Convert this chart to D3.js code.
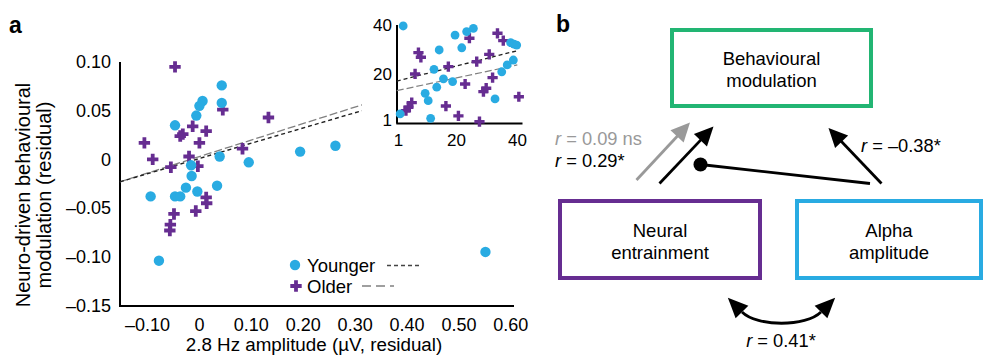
<!DOCTYPE html>
<html><head><meta charset="utf-8">
<script src="https://cdn.jsdelivr.net/npm/d3@7"></script>
<style>
html,body{margin:0;padding:0;background:#fff;}
svg{display:block;font-family:"Liberation Sans",Arial,Helvetica,sans-serif;}
</style></head>
<body>
<svg id="chart" width="983" height="355"></svg>
<script>
// ---------- DATA ----------
const youngerX = [0.044,0.007,0.001,0.044,-0.005,-0.046,0.040,0.096,0.195,0.263,-0.015,-0.014,-0.025,-0.003,0.035,-0.093,-0.046,-0.036,-0.077,0.552];
const youngerY = [0.076,0.060,0.055,0.058,0.045,0.035,0.003,-0.003,0.008,0.014,-0.006,-0.017,-0.029,-0.033,-0.027,-0.038,-0.038,-0.038,-0.104,-0.095];
const olderX = [-0.046,0.046,-0.012,0.014,-0.031,-0.036,-0.105,0.001,0.134,0.084,-0.089,-0.019,-0.054,-0.002,0.014,0.015,-0.006,-0.048,-0.055,-0.056];
const olderY = [0.095,0.051,0.034,0.029,0.026,0.024,0.017,0.017,0.043,0.011,0.000,0.003,-0.008,-0.007,-0.039,-0.045,-0.053,-0.056,-0.067,-0.073];
const fitYoungerX = [-0.152,0.314], fitYoungerY = [-0.023,0.050];
const fitOlderX = [-0.152,0.314], fitOlderY = [-0.023,0.056];
const xTicks = [-0.10,0,0.10,0.20,0.30,0.40,0.50,0.60];
const xTickLabels = ["\u20130.10","0","0.10","0.20","0.30","0.40","0.50","0.60"];
const yTicks = [0.10,0.05,0,-0.05,-0.10,-0.15];
const yTickLabels = ["0.10","0.05","0","\u20130.05","\u20130.10","\u20130.15"];
// inset
const inYoungerX = [2.7,19.7,23.5,25.7,21.9,14.5,37.9,39.0,39.9,38.8,36.8,35.0,12.8,15.9,18.9,13.7,9.9,10.9,32.8,11.7,1.7];
const inYoungerY = [39.6,35.9,37.3,38.6,30.7,29.8,32.8,32.2,31.8,25.7,23.7,20.9,21.9,18.0,16.9,14.6,12.1,9.1,9.8,1.9,3.7];
const inOlderX = [7.7,8.5,6.6,17.5,24.4,33.6,35.5,30.9,26.8,32.0,23.0,29.9,29.0,40.6,16.7,5.5,4.4,3.6,20.8,27.7];
const inOlderY = [28.7,26.8,20.0,23.0,34.6,36.6,33.6,28.0,25.0,18.5,15.9,14.2,12.8,10.7,6.9,8.3,6.4,5.0,2.9,0.5];
const inFitYoungerX = [0.6,40.1], inFitYoungerY = [17.1,29.5];
const inFitOlderX = [0.6,40.1], inFitOlderY = [13.2,23.7];
const inTicks = [1,20,40];
const legendLabels = ["Younger","Older"];
// panel b
const boxLabels = [["Behavioural","modulation"],["Neural","entrainment"],["Alpha","amplitude"]];
const rLabels = ["0.09 ns","0.29*","\u20130.38*","0.41*"];

// ---------- STYLE ----------
const cYoung = "#29abe2", cOld = "#662d91", cGreen = "#22b573";
const svg = d3.select("#chart");

// ---------- PANEL A ----------
const x = d3.scaleLinear().domain([-0.152,0.607]).range([120,514]);
const y = d3.scaleLinear().domain([-0.15,0.10]).range([305.5,62]);

svg.append("text").attr("x",9).attr("y",33).attr("font-size",23).attr("font-weight","bold").text("a");

const xAxis = d3.axisBottom(x).tickValues(xTicks).tickSize(0).tickPadding(12)
  .tickFormat((d,i)=>xTickLabels[i]);
const gx = svg.append("g").attr("transform","translate(0,306)").call(xAxis);
gx.select(".domain").attr("stroke","#000").attr("stroke-width",2).attr("d","M120,0H514");
gx.selectAll("text").attr("font-size",18).attr("fill","#000").attr("font-family","Liberation Sans, Arial, sans-serif");

const yAxis = d3.axisLeft(y).tickValues(yTicks).tickSize(0).tickPadding(9)
  .tickFormat((d,i)=>yTickLabels[i]);
const gy = svg.append("g").attr("transform","translate(120,0)").call(yAxis);
gy.select(".domain").attr("stroke","#000").attr("stroke-width",2).attr("d","M0,62V307");
gy.selectAll("text").attr("font-size",18).attr("fill","#000").attr("font-family","Liberation Sans, Arial, sans-serif");

svg.append("text").attr("x",314).attr("y",351).attr("text-anchor","middle").attr("font-size",18.8)
  .text("2.8 Hz amplitude (\u00b5V, residual)");
svg.append("text").attr("transform","translate(30,195) rotate(-90)").attr("text-anchor","middle").attr("font-size",20)
  .text("Neuro-driven behavioural");
svg.append("text").attr("transform","translate(51,195) rotate(-90)").attr("text-anchor","middle").attr("font-size",20)
  .text("modulation (residual)");

// fit lines
const line = d3.line().x(d=>x(d[0])).y(d=>y(d[1]));
svg.append("path").attr("d",line(d3.zip(fitOlderX,fitOlderY))).attr("fill","none")
  .attr("stroke","#808080").attr("stroke-width",1.3).attr("stroke-dasharray","8,3");
svg.append("path").attr("d",line(d3.zip(fitYoungerX,fitYoungerY))).attr("fill","none")
  .attr("stroke","#222").attr("stroke-width",1.4).attr("stroke-dasharray","4,3");

// points
const cross = d3.symbol().type(d3.symbolCross).size(72);
svg.append("g").selectAll("path").data(d3.zip(olderX,olderY)).join("path")
  .attr("d",cross).attr("transform",d=>`translate(${x(d[0])},${y(d[1])})`).attr("fill",cOld);
svg.append("g").selectAll("circle").data(d3.zip(youngerX,youngerY)).join("circle")
  .attr("cx",d=>x(d[0])).attr("cy",d=>y(d[1])).attr("r",5.2).attr("fill",cYoung);

// legend
svg.append("circle").attr("cx",295).attr("cy",265).attr("r",5.2).attr("fill",cYoung);
svg.append("text").attr("x",307).attr("y",271.5).attr("font-size",18.5).text(legendLabels[0]);
svg.append("line").attr("x1",387).attr("x2",419).attr("y1",265.5).attr("y2",265.5)
  .attr("stroke","#444").attr("stroke-width",1.3).attr("stroke-dasharray","4,3");
svg.append("path").attr("d",cross).attr("transform","translate(296,286)").attr("fill",cOld);
svg.append("text").attr("x",307).attr("y",292.5).attr("font-size",18.5).text(legendLabels[1]);
svg.append("line").attr("x1",362).attr("x2",394).attr("y1",286).attr("y2",286)
  .attr("stroke","#808080").attr("stroke-width",1.3).attr("stroke-dasharray","9,5");

// inset
const xi = d3.scaleLinear().domain([1,40]).range([398,517]);
const yi = d3.scaleLinear().domain([1,40]).range([120.5,25]);
const xiAxis = d3.axisBottom(xi).tickValues(inTicks).tickSize(0).tickPadding(10).tickFormat(d3.format("d"));
const gxi = svg.append("g").attr("transform","translate(0,123.5)").call(xiAxis);
gxi.select(".domain").attr("stroke","#000").attr("stroke-width",2).attr("d",`M${xi(0.45)},0H${xi(41.8)}`);
gxi.selectAll("text").attr("font-size",17).attr("fill","#000").attr("font-family","Liberation Sans, Arial, sans-serif");
const yiAxis = d3.axisLeft(yi).tickValues(inTicks).tickSize(0).tickPadding(5).tickFormat(d3.format("d"));
const gyi = svg.append("g").attr("transform","translate(397,0)").call(yiAxis);
gyi.select(".domain").attr("stroke","#000").attr("stroke-width",2).attr("d",`M0,${yi(40)}V${yi(-0.2)}`);
gyi.selectAll("text").attr("font-size",17).attr("fill","#000").attr("font-family","Liberation Sans, Arial, sans-serif");

const linei = d3.line().x(d=>xi(d[0])).y(d=>yi(d[1]));
svg.append("path").attr("d",linei(d3.zip(inFitOlderX,inFitOlderY))).attr("fill","none")
  .attr("stroke","#808080").attr("stroke-width",1.2).attr("stroke-dasharray","7,3");
svg.append("path").attr("d",linei(d3.zip(inFitYoungerX,inFitYoungerY))).attr("fill","none")
  .attr("stroke","#222").attr("stroke-width",1.3).attr("stroke-dasharray","4,3");
const crossS = d3.symbol().type(d3.symbolCross).size(58);
svg.append("g").selectAll("path").data(d3.zip(inOlderX,inOlderY)).join("path")
  .attr("d",crossS).attr("transform",d=>`translate(${xi(d[0])},${yi(d[1])})`).attr("fill",cOld);
svg.append("g").selectAll("circle").data(d3.zip(inYoungerX,inYoungerY)).join("circle")
  .attr("cx",d=>xi(d[0])).attr("cy",d=>yi(d[1])).attr("r",4.4).attr("fill",cYoung);

// ---------- PANEL B ----------
svg.append("text").attr("x",556).attr("y",32).attr("font-size",23).attr("font-weight","bold").text("b");

const boxes = [
  {x:672,y:30,w:199,h:76,c:cGreen},
  {x:560,y:201,w:200,h:77,c:cOld},
  {x:797,y:201,w:184,h:77,c:cYoung}
];
boxes.forEach((b,i)=>{
  svg.append("rect").attr("x",b.x).attr("y",b.y).attr("width",b.w).attr("height",b.h)
    .attr("fill","none").attr("stroke",b.c).attr("stroke-width",4);
  const t = svg.append("text").attr("text-anchor","middle").attr("font-size",18.5);
  t.append("tspan").attr("x",b.x+b.w/2).attr("y",b.y+b.h/2-3).text(boxLabels[i][0]);
  t.append("tspan").attr("x",b.x+b.w/2).attr("y",b.y+b.h/2+19).text(boxLabels[i][1]);
});

function arrowHead(tx,ty,dx,dy,color,L,W){
  const n = Math.hypot(dx,dy); dx/=n; dy/=n;
  const bx = tx-dx*L, by = ty-dy*L;
  const px = -dy, py = dx;
  svg.append("path").attr("d",`M${tx},${ty}L${bx+px*W},${by+py*W}L${bx-px*W},${by-py*W}Z`).attr("fill",color);
  return [bx+dx*2,by+dy*2];
}
function arrow(x1,y1,x2,y2,color){
  const b = arrowHead(x2,y2,x2-x1,y2-y1,color,19,9);
  svg.append("line").attr("x1",x1).attr("y1",y1).attr("x2",b[0]).attr("y2",b[1])
    .attr("stroke",color).attr("stroke-width",2.8);
}
arrow(636.5,180,690,122.5,"#999");
arrow(659.5,183.5,713.5,126.5,"#000");
arrow(881.5,183.5,828.5,128,"#000");
// moderation line with dot
svg.append("line").attr("x1",700.5).attr("y1",164.5).attr("x2",870).attr("y2",183.5)
  .attr("stroke","#000").attr("stroke-width",2.8);
svg.append("circle").attr("cx",700.5).attr("cy",164.5).attr("r",7).attr("fill","#000");

// curved double arrow
const P0=[742,312],P1=[757,327],P2=[806,327],P3=[821,312];
svg.append("path").attr("d",`M${P0}C${P1} ${P2} ${P3}`).attr("fill","none").attr("stroke","#000").attr("stroke-width",2.8);
(function(){
  const L=20,W=9;
  let dx=P0[0]-P1[0], dy=P0[1]-P1[1]; let n=Math.hypot(dx,dy);
  arrowHead(P0[0]+dx/n*L,P0[1]+dy/n*L,dx,dy,"#000",L,W);
  dx=P3[0]-P2[0]; dy=P3[1]-P2[1]; n=Math.hypot(dx,dy);
  arrowHead(P3[0]+dx/n*L,P3[1]+dy/n*L,dx,dy,"#000",L,W);
})();

function rText(xp,yp,val,color,anchor){
  const t = svg.append("text").attr("x",xp).attr("y",yp).attr("font-size",18.3).attr("fill",color)
    .attr("text-anchor",anchor||"start");
  t.append("tspan").attr("font-style","italic").text("r");
  t.append("tspan").text(" = "+val);
}
rText(555,145,rLabels[0],"#999");
rText(555,166.5,rLabels[1],"#000");
rText(861,151.5,rLabels[2],"#000");
rText(781,346.5,rLabels[3],"#000","middle");
</script>
</body></html>
